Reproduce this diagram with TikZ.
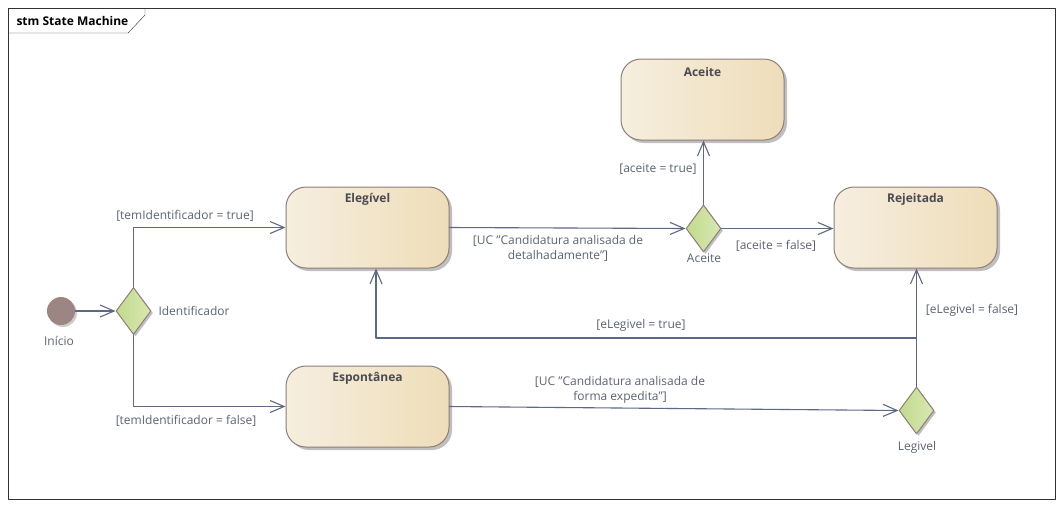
\documentclass[tikz,border=0pt]{standalone}
\usepackage{fontspec}
\setmainfont{Open Sans}
\usetikzlibrary{arrows.meta,shapes.geometric,shadows}
\definecolor{edgecol}{HTML}{5D6985}
\definecolor{labcol}{HTML}{5B6373}
\definecolor{titcol}{HTML}{4A4A52}
\definecolor{statebd}{HTML}{8E7D78}
\definecolor{stateL}{HTML}{F6EEDF}
\definecolor{stateR}{HTML}{EEDDB9}
\definecolor{decL}{HTML}{C2DA8C}
\definecolor{decR}{HTML}{D8E8B2}
\definecolor{initcol}{HTML}{9C8582}
\begin{document}
\begin{tikzpicture}[x=1pt,y=-1pt,>={Straight Barb[length=14pt,width=12pt]},
  font=\fontsize{12}{15}\selectfont, line join=round, line cap=round,
  state/.style={draw=statebd, line width=1pt, rounded corners=20pt, left color=stateL, right color=stateR,
    minimum width=163pt, minimum height=81pt, inner sep=0pt,
    drop shadow={shadow xshift=3pt, shadow yshift=-3pt, opacity=.25, fill=black}},
  decision/.style={diamond, draw=statebd, line width=1pt, left color=decL, right color=decR,
    minimum width=35pt, minimum height=47pt, inner sep=0pt,
    drop shadow={shadow xshift=2pt, shadow yshift=-2pt, opacity=.25, fill=black}},
  stitle/.style={font=\fontsize{12}{15}\selectfont\bfseries, text=titcol},
  edge/.style={draw=edgecol, line width=1.1pt},
  guard/.style={text=labcol, align=center, inner sep=1pt}]
\useasboundingbox (0,0) rectangle (1062,507);
% frame
\draw[black!80] (8,8) rectangle (1055,499);
\draw[black!80] (8,33) -- (128,33) -- (145,15) -- (145,8);
\node[anchor=west, font=\fontsize{12}{15}\selectfont\bfseries] (frame) at (13,21) {stm State Machine};
% states
\node[state] (eleg) at (367.5,227.5) {};
\node[stitle] at (367.5,199) {Elegível};
\node[state] (acei) at (702.5,99.5) {};
\node[stitle] at (702.5,72) {Aceite};
\node[state] (rej) at (915.5,227.5) {};
\node[stitle] at (915.5,199) {Rejeitada};
\node[state] (espo) at (367.5,406.5) {};
\node[stitle] at (367.5,378) {Espontânea};
% initial + decisions
\node[circle, fill=initcol, minimum size=28pt, inner sep=0pt,
  drop shadow={shadow xshift=2pt, shadow yshift=-2pt, opacity=.2, fill=black}] (ini) at (61,311) {};
\node[text=labcol] (inil) at (59,341) {Início};
\node[decision] (idf) at (133.5,311) {};
\node[text=labcol, anchor=west] (idfl) at (155,311) {Identificador};
\node[decision] (acd) at (703.5,228.5) {};
\node[text=labcol] (acdl) at (704,258) {Aceite};
\node[decision] (legd) at (916.5,410.5) {};
\node[text=labcol] (legl) at (917,447) {Legivel};
\coordinate (split) at (916.5,338);
% transitions
\draw[edge,->] (ini) -- (idf);
\draw[edge,->] (idf.north) |- (eleg.west);
\draw[edge,->] (idf.south) |- (espo.west);
\draw[edge,->] (eleg.east) -- (acd.west);
\draw[edge,->] (acd.north) -- (acd.north |- acei.south);
\draw[edge,->] (acd.east) -- (rej.west |- acd.east);
\draw[edge,->] (espo.east) -- (legd.west);
\draw[edge,->] (legd.north) -- (legd.north |- rej.south);
\draw[edge,->] (split) -| ([xshift=8.5pt]eleg.south);
% guards
\node[guard] (g1) at (185,216) {[temIdentificador = true]};
\node[guard] (g2) at (186,421) {[temIdentificador = false]};
\node[guard] (g3) at (558,248.5) {[UC "Candidatura analisada de\\ detalhadamente"]};
\node[guard] (g4) at (658,169) {[aceite = true]};
\node[guard] (g5) at (776,246) {[aceite = false]};
\node[guard] (g6) at (641,325) {[eLegivel = true]};
\node[guard] (g7) at (972,310) {[eLegivel = false]};
\node[guard] (g8) at (620,389.5) {[UC "Candidatura analisada de\\ forma expedita"]};
\end{tikzpicture}
\end{document}
